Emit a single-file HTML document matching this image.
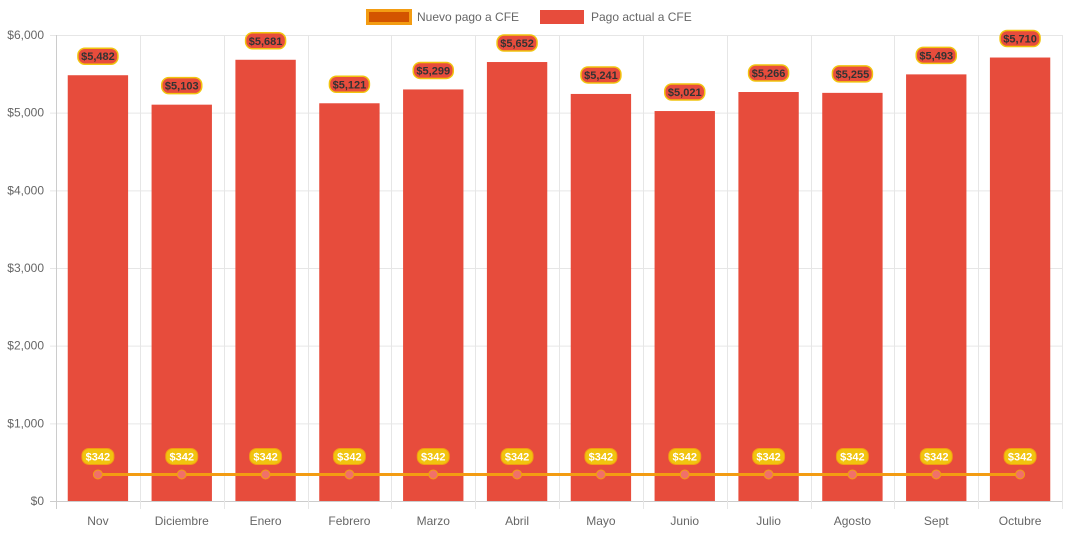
<!DOCTYPE html>
<html><head><meta charset="utf-8"><style>
body{margin:0;background:#fff;font-family:"Liberation Sans",Arial,sans-serif}
svg{display:block}
</style></head><body>
<svg id="c" width="1068" height="533">
<g>
 <g>
  <rect x="367.5" y="10.5" width="43" height="13" fill="#d35400" stroke="#f39c12" stroke-width="3"/>
  <text x="417" y="21" font-size="12" fill="#666">Nuevo pago a CFE</text>
 </g>
 <g>
  <rect x="540" y="10" width="44" height="14" fill="#e74c3c"/>
  <text x="591" y="21" font-size="12" fill="#666">Pago actual a CFE</text>
 </g>
</g>
<g id="grid"></g>
<g id="bars"></g>
<g id="line"></g>
<g id="labels"></g>
</svg>
<script>
const categories=["Nov","Diciembre","Enero","Febrero","Marzo","Abril","Mayo","Junio","Julio","Agosto","Sept","Octubre"];
const actual=[5482,5103,5681,5121,5299,5652,5241,5021,5266,5255,5493,5710];
const nuevo=[342,342,342,342,342,342,342,342,342,342,342,342];
const yTicks=[0,1000,2000,3000,4000,5000,6000];
const yTickLabels=["$0","$1,000","$2,000","$3,000","$4,000","$5,000","$6,000"];
const L=56,R=1062,T=35,B=501,YMAX=6000;
const NS="http://www.w3.org/2000/svg";
const bw=(R-L)/categories.length;
const y=v=>B-(v/YMAX)*(B-T);
const xc=i=>L+bw*(i+0.5);
function mk(tag,attrs,parent,text){const e=document.createElementNS(NS,tag);for(const k in attrs)e.setAttribute(k,attrs[k]);if(text!==undefined)e.textContent=text;document.getElementById(parent).appendChild(e);return e;}
const fmt=v=>"$"+v.toLocaleString("en-US");
yTicks.forEach((t,i)=>{
 const l=mk("line",{x1:L-6,x2:R,y1:y(t)+0.5,y2:y(t)+0.5,stroke:i===0?"#ccc":"#e6e6e6"},"grid");
 
 
 const tx=mk("text",{x:L-12,y:y(t)+4,"text-anchor":"end","font-size":12,fill:"#666"},"grid",yTickLabels[i]);
 
 
});
for(let i=0;i<=categories.length;i++){
 const x=Math.round(L+bw*i)+0.5;
 const l=mk("line",{x1:x,x2:x,y1:T,y2:B+8,stroke:i===0?"#ccc":"#e6e6e6"},"grid");
 
 
}
categories.forEach((c,i)=>{
 const tx=mk("text",{x:xc(i),y:B+24,"text-anchor":"middle","font-size":12,fill:"#666"},"grid",c);
 
 
 const w=bw*0.72;
 const r=mk("rect",{x:xc(i)-w/2,y:y(actual[i]),width:w,height:B-y(actual[i]),fill:"#e74c3c"},"bars");
 
 
 // label
 const ly=y(actual[i])-19;
 const lb=mk("rect",{x:xc(i)-20,y:ly-8,width:40,height:16,rx:7,fill:"#e74c3c",stroke:"#f1c40f","stroke-width":1.5},"labels");
 
 
 const lt=mk("text",{x:xc(i),y:ly+4,"text-anchor":"middle","font-size":11,"font-weight":"bold",fill:"#333"},"labels",fmt(actual[i]));
 
 
});
const pts=nuevo.map((v,i)=>xc(i)+","+y(v)).join(" ");
const pl=mk("polyline",{points:pts,fill:"none",stroke:"#f39c12","stroke-width":3},"line");


nuevo.forEach((v,i)=>{
 const p=mk("circle",{cx:xc(i),cy:y(v),r:4.5,fill:"#f1706a",stroke:"#f39c12","stroke-width":1},"line");
 
 
 const ly=y(v)-18;
 const lb=mk("rect",{x:xc(i)-16,y:ly-8,width:32,height:16,rx:7,fill:"#f1c40f",stroke:"#f39c12","stroke-width":1},"labels");
 
 
 const lt=mk("text",{x:xc(i),y:ly+4,"text-anchor":"middle","font-size":11,"font-weight":"bold",fill:"#fff"},"labels",fmt(v));
 
 
});
</script>
</body></html>
